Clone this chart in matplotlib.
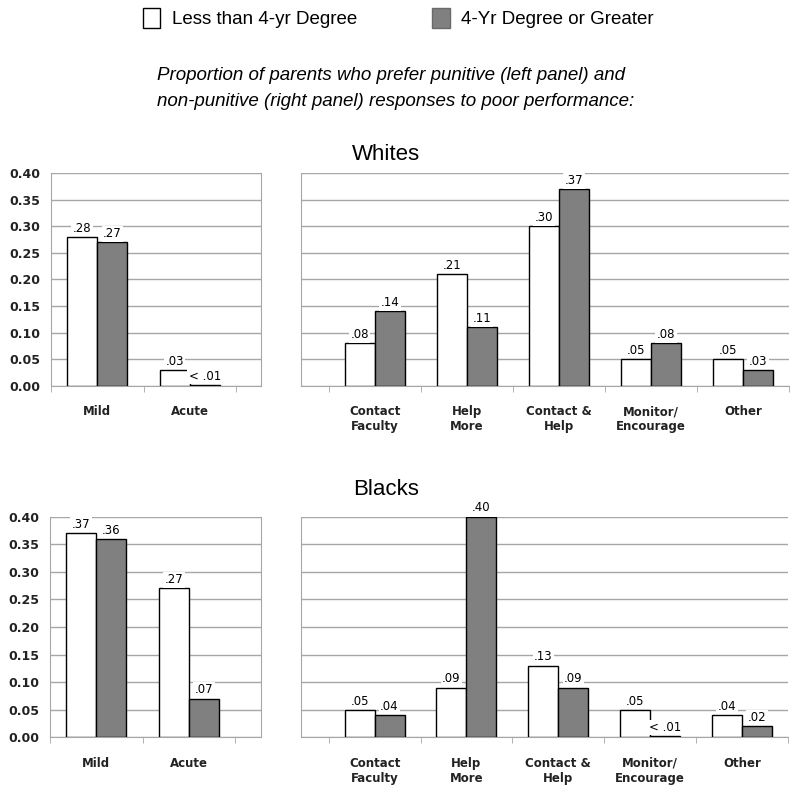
import numpy as np
import matplotlib
matplotlib.use("Agg")
import matplotlib.pyplot as plt
from matplotlib.patches import Patch

# data
punitive_cats = ["Mild", "Acute"]
nonpun_cats = ["Contact\nFaculty", "Help\nMore", "Contact &\nHelp", "Monitor/\nEncourage", "Other"]
series_names = ["Less than 4-yr Degree", "4-Yr Degree or Greater"]

whites_pun_less = [0.28, 0.03]
whites_pun_more = [0.27, 0.002]
whites_pun_less_lbl = [".28", ".03"]
whites_pun_more_lbl = [".27", "< .01"]

whites_non_less = [0.08, 0.21, 0.30, 0.05, 0.05]
whites_non_more = [0.14, 0.11, 0.37, 0.08, 0.03]
whites_non_less_lbl = [".08", ".21", ".30", ".05", ".05"]
whites_non_more_lbl = [".14", ".11", ".37", ".08", ".03"]

blacks_pun_less = [0.37, 0.27]
blacks_pun_more = [0.36, 0.07]
blacks_pun_less_lbl = [".37", ".27"]
blacks_pun_more_lbl = [".36", ".07"]

blacks_non_less = [0.05, 0.09, 0.13, 0.05, 0.04]
blacks_non_more = [0.04, 0.40, 0.09, 0.002, 0.02]
blacks_non_less_lbl = [".05", ".09", ".13", ".05", ".04"]
blacks_non_more_lbl = [".04", ".40", ".09", "< .01", ".02"]

W, H = 800, 791
GRID = "#a6a6a6"
GRAY = "#808080"
BW = 0.326

fig = plt.figure(figsize=(W / 100, H / 100), dpi=100)


def px_axes(x0, x1, ytop, ybot):
    return fig.add_axes([x0 / W, 1 - ybot / H, (x1 - x0) / W, (ybot - ytop) / H])


def draw_panel(ax, cats, less, more, less_lbl, more_lbl, xlim, show_y, right_spine):
    x = np.arange(len(cats))
    ax.set_ylim(0, 0.40)
    ax.set_xlim(*xlim)
    ax.set_yticks(np.arange(0, 0.401, 0.05))
    ax.yaxis.grid(True, color=GRID, lw=1)
    ax.set_axisbelow(True)
    ax.bar(x - BW / 2, less, BW, color="white", edgecolor="black", lw=1, zorder=3)
    ax.bar(x + BW / 2, more, BW, color=GRAY, edgecolor="black", lw=1, zorder=3)
    for xi, v, t in zip(x - BW / 2, less, less_lbl):
        ax.text(xi, v + 0.004, t, ha="center", va="bottom", fontsize=8.5, zorder=4,
                bbox=dict(fc="white", ec="none", pad=1))
    for xi, v, t in zip(x + BW / 2, more, more_lbl):
        ax.text(xi, v + 0.004, t, ha="center", va="bottom", fontsize=8.5, zorder=4,
                bbox=dict(fc="white", ec="none", pad=1))
    ax.spines["top"].set_visible(False)
    ax.spines["right"].set_visible(right_spine)
    for s in ["left", "bottom", "right"]:
        ax.spines[s].set_color(GRID)
    ax.set_xticks(x)
    ax.set_xticklabels(cats, fontsize=8.5, fontweight="bold", color="#222222")
    ax.set_xticks(np.arange(-0.5, len(cats) + 0.5, 1), minor=True)
    ax.tick_params(axis="x", which="major", length=0, pad=14)
    ax.tick_params(axis="x", which="minor", length=4, color=GRID, direction="out")
    if show_y:
        ax.set_yticklabels([f"{v:.2f}" for v in np.arange(0, 0.401, 0.05)],
                           fontsize=9, fontweight="bold", color="#222222")
        ax.tick_params(axis="y", length=0, pad=8)
    else:
        ax.tick_params(axis="y", length=0, labelleft=False)


# Whites
ax1 = px_axes(51, 261, 173.3, 385.7)
draw_panel(ax1, punitive_cats, whites_pun_less, whites_pun_more,
           whites_pun_less_lbl, whites_pun_more_lbl, (-0.5, 1.77), True, True)
ax2 = px_axes(300.7, 789, 173.3, 385.7)
draw_panel(ax2, nonpun_cats, whites_non_less, whites_non_more,
           whites_non_less_lbl, whites_non_more_lbl, (-0.804, 4.5), False, False)

# Blacks
ax3 = px_axes(50, 261, 516.7, 737.3)
draw_panel(ax3, punitive_cats, blacks_pun_less, blacks_pun_more,
           blacks_pun_less_lbl, blacks_pun_more_lbl, (-0.5, 1.78), True, True)
ax4 = px_axes(300.7, 788, 516.7, 737.3)
draw_panel(ax4, nonpun_cats, blacks_non_less, blacks_non_more,
           blacks_non_less_lbl, blacks_non_more_lbl, (-0.804, 4.5), False, False)

fig.text(386 / W, 1 - 155 / H, "Whites", ha="center", va="center",
         fontsize=16, family="Liberation Sans")
fig.text(386 / W, 1 - 490 / H, "Blacks", ha="center", va="center",
         fontsize=16, family="Liberation Sans")

fig.text(157 / W, 1 - 75 / H,
         "Proportion of parents who prefer punitive (left panel) and",
         ha="left", va="center", fontsize=13.5, style="italic", family="Liberation Sans")
fig.text(157 / W, 1 - 101 / H,
         "non-punitive (right panel) responses to poor performance:",
         ha="left", va="center", fontsize=13.5, style="italic", family="Liberation Sans")

handles = [Patch(fc="white", ec="black", lw=1), Patch(fc=GRAY, ec="#6a6a6a", lw=1)]
fig.legend(handles, series_names, loc="center", bbox_to_anchor=(398 / W, 1 - 18 / H),
           ncol=2, frameon=False, handlelength=0.95, handleheight=1.25, handletextpad=0.6,
           columnspacing=4.0, prop={"family": "Liberation Sans", "size": 13.5})

fig.savefig("out.png", dpi=100, facecolor="white")
